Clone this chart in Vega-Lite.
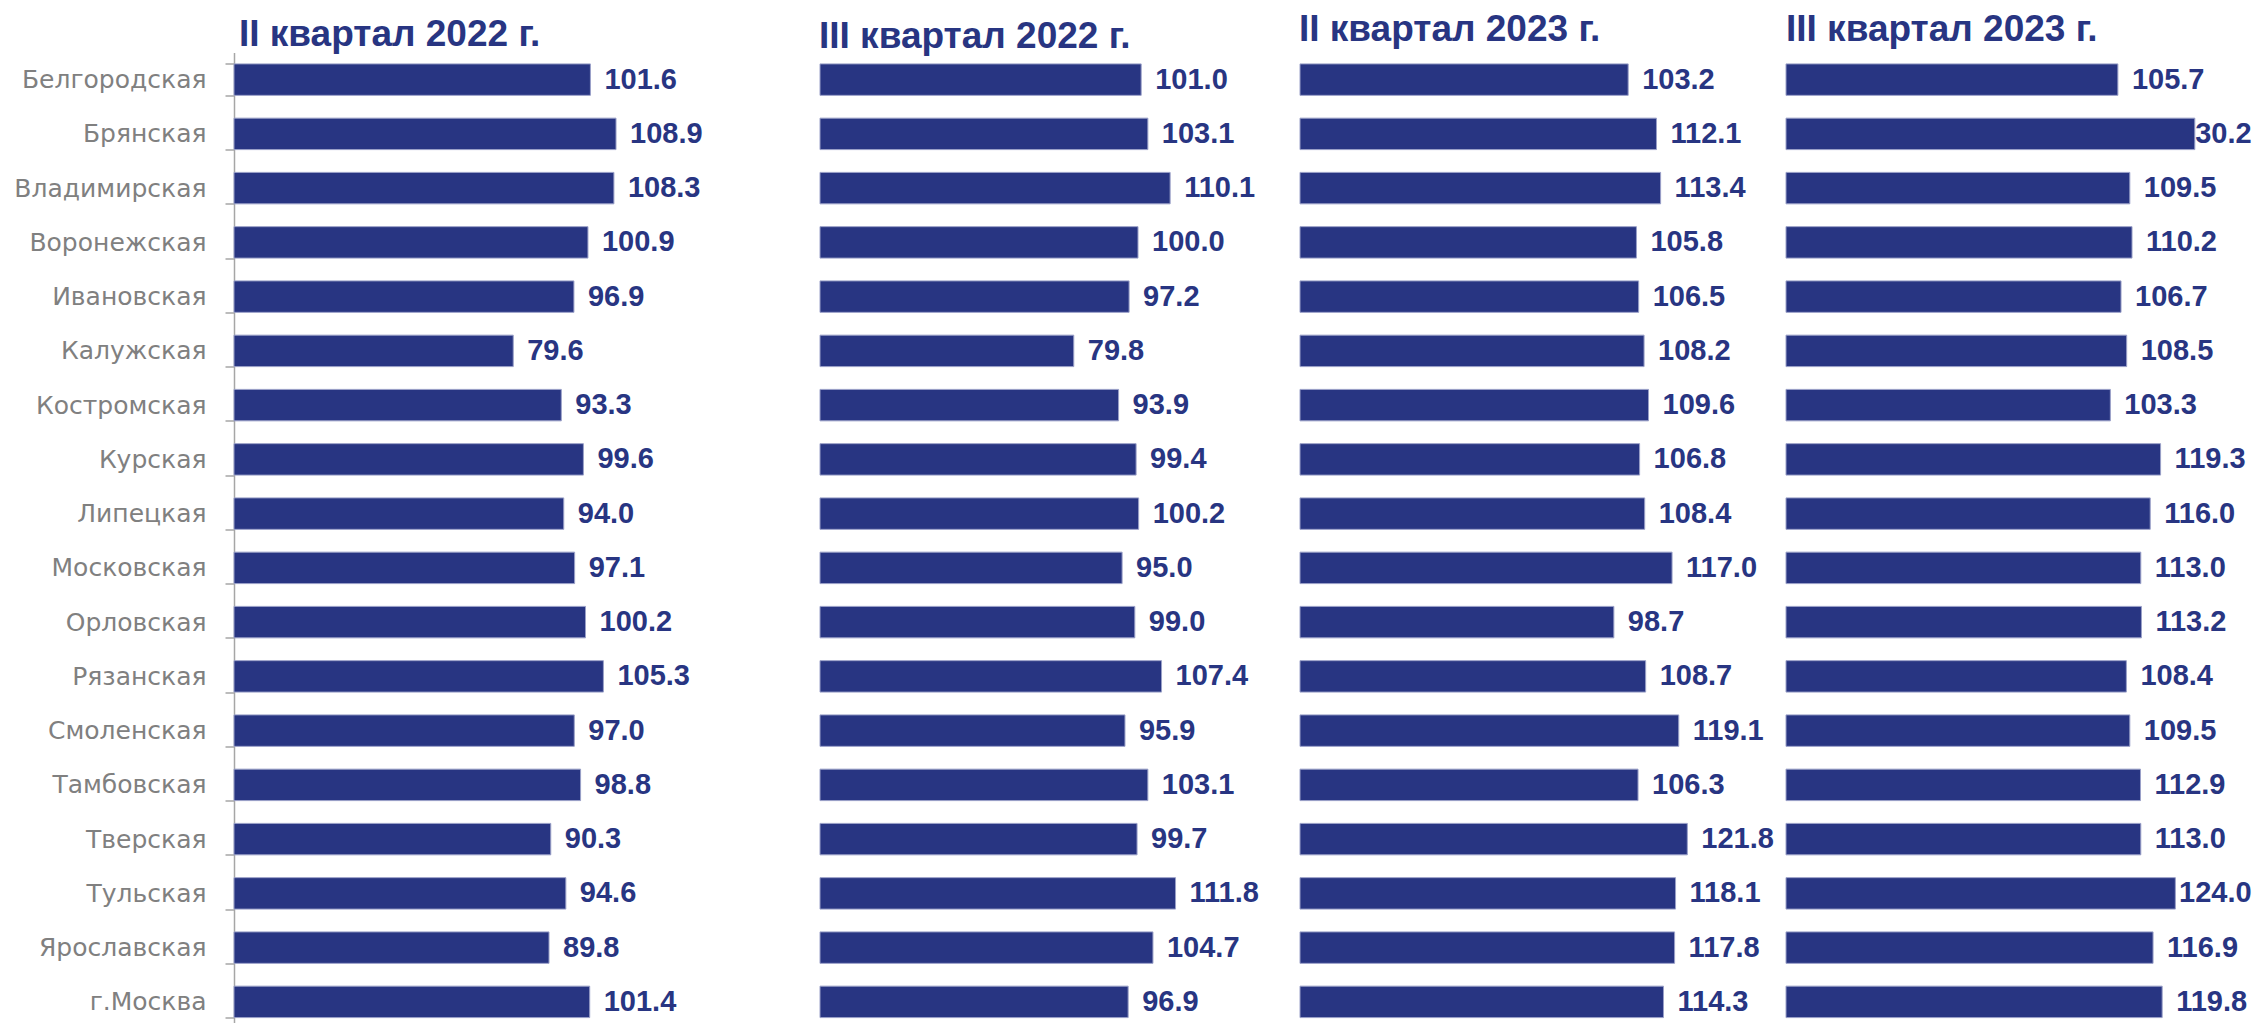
{
  "$schema": "https://vega.github.io/schema/vega-lite/v6.json",
  "padding": {"top": 10.5, "left": 0, "right": 0, "bottom": 0},
  "autosize": {"type": "pad"},
  "background": "white",
  "bounds": "flush",
  "spacing": 0,
  "config": {
    "view": {"stroke": null},
    "title": {"font": "Liberation Sans", "fontSize": 37, "fontWeight": "bold", "color": "#283582", "anchor": "start", "frame": "group", "baseline": "alphabetic"}
  },
  "datasets": {
    "d": [
      {"region": "Белгородская", "period": "q2_2022", "value": 101.6},
      {"region": "Брянская", "period": "q2_2022", "value": 108.9},
      {"region": "Владимирская", "period": "q2_2022", "value": 108.3},
      {"region": "Воронежская", "period": "q2_2022", "value": 100.9},
      {"region": "Ивановская", "period": "q2_2022", "value": 96.9},
      {"region": "Калужская", "period": "q2_2022", "value": 79.6},
      {"region": "Костромская", "period": "q2_2022", "value": 93.3},
      {"region": "Курская", "period": "q2_2022", "value": 99.6},
      {"region": "Липецкая", "period": "q2_2022", "value": 94.0},
      {"region": "Московская", "period": "q2_2022", "value": 97.1},
      {"region": "Орловская", "period": "q2_2022", "value": 100.2},
      {"region": "Рязанская", "period": "q2_2022", "value": 105.3},
      {"region": "Смоленская", "period": "q2_2022", "value": 97.0},
      {"region": "Тамбовская", "period": "q2_2022", "value": 98.8},
      {"region": "Тверская", "period": "q2_2022", "value": 90.3},
      {"region": "Тульская", "period": "q2_2022", "value": 94.6},
      {"region": "Ярославская", "period": "q2_2022", "value": 89.8},
      {"region": "г.Москва", "period": "q2_2022", "value": 101.4},

      {"region": "Белгородская", "period": "q3_2022", "value": 101.0},
      {"region": "Брянская", "period": "q3_2022", "value": 103.1},
      {"region": "Владимирская", "period": "q3_2022", "value": 110.1},
      {"region": "Воронежская", "period": "q3_2022", "value": 100.0},
      {"region": "Ивановская", "period": "q3_2022", "value": 97.2},
      {"region": "Калужская", "period": "q3_2022", "value": 79.8},
      {"region": "Костромская", "period": "q3_2022", "value": 93.9},
      {"region": "Курская", "period": "q3_2022", "value": 99.4},
      {"region": "Липецкая", "period": "q3_2022", "value": 100.2},
      {"region": "Московская", "period": "q3_2022", "value": 95.0},
      {"region": "Орловская", "period": "q3_2022", "value": 99.0},
      {"region": "Рязанская", "period": "q3_2022", "value": 107.4},
      {"region": "Смоленская", "period": "q3_2022", "value": 95.9},
      {"region": "Тамбовская", "period": "q3_2022", "value": 103.1},
      {"region": "Тверская", "period": "q3_2022", "value": 99.7},
      {"region": "Тульская", "period": "q3_2022", "value": 111.8},
      {"region": "Ярославская", "period": "q3_2022", "value": 104.7},
      {"region": "г.Москва", "period": "q3_2022", "value": 96.9},

      {"region": "Белгородская", "period": "q2_2023", "value": 103.2},
      {"region": "Брянская", "period": "q2_2023", "value": 112.1},
      {"region": "Владимирская", "period": "q2_2023", "value": 113.4},
      {"region": "Воронежская", "period": "q2_2023", "value": 105.8},
      {"region": "Ивановская", "period": "q2_2023", "value": 106.5},
      {"region": "Калужская", "period": "q2_2023", "value": 108.2},
      {"region": "Костромская", "period": "q2_2023", "value": 109.6},
      {"region": "Курская", "period": "q2_2023", "value": 106.8},
      {"region": "Липецкая", "period": "q2_2023", "value": 108.4},
      {"region": "Московская", "period": "q2_2023", "value": 117.0},
      {"region": "Орловская", "period": "q2_2023", "value": 98.7},
      {"region": "Рязанская", "period": "q2_2023", "value": 108.7},
      {"region": "Смоленская", "period": "q2_2023", "value": 119.1},
      {"region": "Тамбовская", "period": "q2_2023", "value": 106.3},
      {"region": "Тверская", "period": "q2_2023", "value": 121.8},
      {"region": "Тульская", "period": "q2_2023", "value": 118.1},
      {"region": "Ярославская", "period": "q2_2023", "value": 117.8},
      {"region": "г.Москва", "period": "q2_2023", "value": 114.3},

      {"region": "Белгородская", "period": "q3_2023", "value": 105.7},
      {"region": "Брянская", "period": "q3_2023", "value": 130.2},
      {"region": "Владимирская", "period": "q3_2023", "value": 109.5},
      {"region": "Воронежская", "period": "q3_2023", "value": 110.2},
      {"region": "Ивановская", "period": "q3_2023", "value": 106.7},
      {"region": "Калужская", "period": "q3_2023", "value": 108.5},
      {"region": "Костромская", "period": "q3_2023", "value": 103.3},
      {"region": "Курская", "period": "q3_2023", "value": 119.3},
      {"region": "Липецкая", "period": "q3_2023", "value": 116.0},
      {"region": "Московская", "period": "q3_2023", "value": 113.0},
      {"region": "Орловская", "period": "q3_2023", "value": 113.2},
      {"region": "Рязанская", "period": "q3_2023", "value": 108.4},
      {"region": "Смоленская", "period": "q3_2023", "value": 109.5},
      {"region": "Тамбовская", "period": "q3_2023", "value": 112.9},
      {"region": "Тверская", "period": "q3_2023", "value": 113.0},
      {"region": "Тульская", "period": "q3_2023", "value": 124.0},
      {"region": "Ярославская", "period": "q3_2023", "value": 116.9},
      {"region": "г.Москва", "period": "q3_2023", "value": 119.8}
    ]
  },
  "hconcat": [
    {
      "width": 585.7,
      "height": 976.5,
      "title": {"text": "II квартал 2022 г.", "offset": -13.6, "dx": 5},
      "data": {"name": "d"},
      "transform": [{"filter": "datum.period === 'q2_2022'"}],
      "encoding": {
        "y": {
          "field": "region", "type": "nominal",
          "sort": ["Белгородская","Брянская","Владимирская","Воронежская","Ивановская","Калужская","Костромская","Курская","Липецкая","Московская","Орловская","Рязанская","Смоленская","Тамбовская","Тверская","Тульская","Ярославская","г.Москва"],
          "scale": {"paddingInner": 0.42, "paddingOuter": 0.21},
          "axis": {
            "title": null,
            "domainColor": "#a6a6a6", "domainWidth": 1.5,
            "tickColor": "#a6a6a6", "tickWidth": 1.5, "tickSize": 9, "tickBand": "extent",
            "labelFont": "DejaVu Sans", "labelFontSize": 25, "labelColor": "#808080",
            "labelPadding": 19, "labelLimit": 400,
            "minExtent": 234, "maxExtent": 234
          }
        }
      },
      "layer": [
        {
          "mark": {"type": "text", "align": "left", "baseline": "middle", "dx": 14, "font": "Liberation Sans", "fontSize": 29, "fontWeight": "bold", "color": "#283582"},
          "encoding": {
            "x": {"field": "value", "type": "quantitative", "scale": {"domain": [0, 166.96], "nice": false}, "axis": null},
            "text": {"field": "value", "type": "quantitative", "format": ".1f"}
          }
        },
        {
          "mark": {"type": "bar", "color": "#283582", "stroke": "#9aa0c8", "strokeWidth": 1},
          "encoding": {
            "x": {"field": "value", "type": "quantitative", "scale": {"domain": [0, 166.96], "nice": false}, "axis": null}
          }
        }
      ]
    },
    {
      "width": 480,
      "height": 976.5,
      "title": {"text": "III квартал 2022 г.", "offset": -3, "dx": -1},
      "data": {"name": "d"},
      "transform": [{"filter": "datum.period === 'q3_2022'"}],
      "encoding": {
        "y": {
          "field": "region", "type": "nominal",
          "sort": ["Белгородская","Брянская","Владимирская","Воронежская","Ивановская","Калужская","Костромская","Курская","Липецкая","Московская","Орловская","Рязанская","Смоленская","Тамбовская","Тверская","Тульская","Ярославская","г.Москва"],
          "scale": {"paddingInner": 0.42, "paddingOuter": 0.21},
          "axis": null
        }
      },
      "layer": [
        {
          "mark": {"type": "text", "align": "left", "baseline": "middle", "dx": 14, "font": "Liberation Sans", "fontSize": 29, "fontWeight": "bold", "color": "#283582"},
          "encoding": {
            "x": {"field": "value", "type": "quantitative", "scale": {"domain": [0, 150.94], "nice": false}, "axis": null},
            "text": {"field": "value", "type": "quantitative", "format": ".1f"}
          }
        },
        {
          "mark": {"type": "bar", "color": "#283582", "stroke": "#9aa0c8", "strokeWidth": 1},
          "encoding": {
            "x": {"field": "value", "type": "quantitative", "scale": {"domain": [0, 150.94], "nice": false}, "axis": null}
          }
        }
      ]
    },
    {
      "width": 486,
      "height": 976.5,
      "title": {"text": "II квартал 2023 г.", "offset": 3.2, "dx": -1},
      "data": {"name": "d"},
      "transform": [{"filter": "datum.period === 'q2_2023'"}],
      "encoding": {
        "y": {
          "field": "region", "type": "nominal",
          "sort": ["Белгородская","Брянская","Владимирская","Воронежская","Ивановская","Калужская","Костромская","Курская","Липецкая","Московская","Орловская","Рязанская","Смоленская","Тамбовская","Тверская","Тульская","Ярославская","г.Москва"],
          "scale": {"paddingInner": 0.42, "paddingOuter": 0.21},
          "axis": null
        }
      },
      "layer": [
        {
          "mark": {"type": "text", "align": "left", "baseline": "middle", "dx": 14, "font": "Liberation Sans", "fontSize": 29, "fontWeight": "bold", "color": "#283582"},
          "encoding": {
            "x": {"field": "value", "type": "quantitative", "scale": {"domain": [0, 152.83], "nice": false}, "axis": null},
            "text": {"field": "value", "type": "quantitative", "format": ".1f"}
          }
        },
        {
          "mark": {"type": "bar", "color": "#283582", "stroke": "#9aa0c8", "strokeWidth": 1},
          "encoding": {
            "x": {"field": "value", "type": "quantitative", "scale": {"domain": [0, 152.83], "nice": false}, "axis": null}
          }
        }
      ]
    },
    {
      "width": 474,
      "height": 976.5,
      "title": {"text": "III квартал 2023 г.", "offset": 3.2, "dx": 0},
      "data": {"name": "d"},
      "transform": [{"filter": "datum.period === 'q3_2023'"}],
      "encoding": {
        "y": {
          "field": "region", "type": "nominal",
          "sort": ["Белгородская","Брянская","Владимирская","Воронежская","Ивановская","Калужская","Костромская","Курская","Липецкая","Московская","Орловская","Рязанская","Смоленская","Тамбовская","Тверская","Тульская","Ярославская","г.Москва"],
          "scale": {"paddingInner": 0.42, "paddingOuter": 0.21},
          "axis": null
        }
      },
      "resolve": {"scale": {"x": "independent"}},
      "layer": [
        {
          "mark": {"type": "text", "align": "left", "baseline": "middle", "dx": 14, "font": "Liberation Sans", "fontSize": 29, "fontWeight": "bold", "color": "#283582"},
          "encoding": {
            "x": {"field": "value", "type": "quantitative", "scale": {"domain": [0, 120.7], "range": [0, 379], "clamp": true, "nice": false}, "axis": null},
            "text": {"field": "value", "type": "quantitative", "format": ".1f"}
          }
        },
        {
          "mark": {"type": "bar", "color": "#283582", "stroke": "#9aa0c8", "strokeWidth": 1},
          "encoding": {
            "x": {"field": "value", "type": "quantitative", "scale": {"domain": [0, 150.96], "nice": false}, "axis": null}
          }
        }
      ]
    }
  ]
}
